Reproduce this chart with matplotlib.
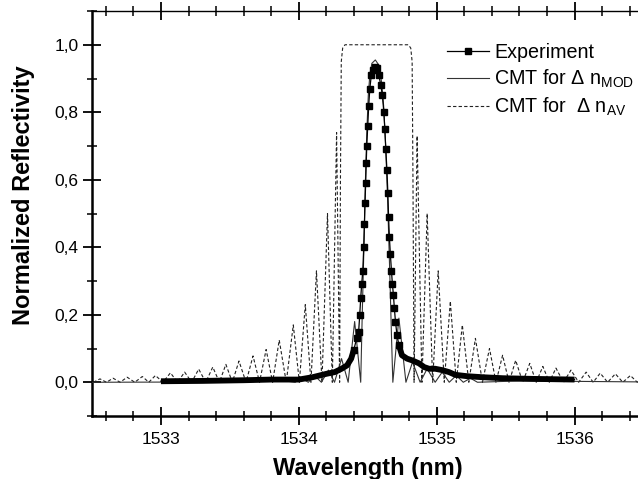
import numpy as np
import matplotlib
matplotlib.use("Agg")
from matplotlib import pyplot as plt
from matplotlib.ticker import MultipleLocator, FuncFormatter

plt.rcParams['font.family'] = ['Liberation Sans', 'DejaVu Sans']
plt.rcParams['mathtext.default'] = 'regular'

# measured grating spectrum (squares)
exp_x = [1533.00, 1533.30, 1533.60, 1533.80, 1534.00, 1534.10, 1534.20, 1534.26,
         1534.31, 1534.35, 1534.38, 1534.398, 1534.420, 1534.434, 1534.442, 1534.449,
         1534.456, 1534.464, 1534.471, 1534.476, 1534.480, 1534.485, 1534.489, 1534.493,
         1534.500, 1534.507, 1534.515, 1534.526, 1534.536, 1534.551, 1534.566, 1534.580,
         1534.595, 1534.606, 1534.617, 1534.624, 1534.631, 1534.639, 1534.646, 1534.651,
         1534.657, 1534.664, 1534.672, 1534.679, 1534.686, 1534.693, 1534.701, 1534.712,
         1534.726, 1534.748, 1534.785, 1534.821, 1534.872, 1534.909, 1534.945, 1534.989,
         1535.04, 1535.09, 1535.135, 1535.22, 1535.33, 1535.48, 1535.70, 1536.00]
exp_y = [0.003, 0.004, 0.006, 0.008, 0.008, 0.015, 0.025, 0.030,
         0.040, 0.050, 0.070, 0.095, 0.130, 0.150, 0.200, 0.250,
         0.290, 0.330, 0.400, 0.470, 0.530, 0.590, 0.650, 0.700,
         0.760, 0.820, 0.870, 0.910, 0.925, 0.935, 0.930, 0.910,
         0.880, 0.850, 0.800, 0.750, 0.690, 0.630, 0.560, 0.490,
         0.430, 0.380, 0.330, 0.290, 0.260, 0.220, 0.180, 0.140,
         0.110, 0.080, 0.070, 0.065, 0.056, 0.045, 0.040, 0.040,
         0.036, 0.030, 0.022, 0.018, 0.015, 0.012, 0.010, 0.008]

# CMT with modulated index change
mod_x = [1532.50, 1533.50, 1533.90, 1533.974, 1534.018, 1534.069, 1534.113, 1534.164,
         1534.215, 1534.259, 1534.310, 1534.358, 1534.405, 1534.449, 1534.460, 1534.471,
         1534.482, 1534.493, 1534.504, 1534.515, 1534.530, 1534.555, 1534.580, 1534.600,
         1534.615, 1534.630, 1534.645, 1534.660, 1534.672, 1534.682, 1534.726, 1534.777,
         1534.825, 1534.880, 1534.931, 1534.989, 1535.040, 1535.091, 1535.142, 1535.193,
         1535.245, 1535.296, 1535.60, 1536.50]
mod_y = [0.000, 0.001, 0.004, 0.000, 0.012, 0.000, 0.020, 0.000,
         0.036, 0.000, 0.070, 0.000, 0.180, 0.000, 0.200, 0.380,
         0.580, 0.740, 0.850, 0.910, 0.945, 0.955, 0.940, 0.890,
         0.820, 0.700, 0.530, 0.320, 0.140, 0.000, 0.190, 0.000,
         0.060, 0.000, 0.040, 0.000, 0.030, 0.000, 0.020, 0.000,
         0.012, 0.000, 0.004, 0.001]

# CMT with average index change
av_x = [1532.51, 1532.558, 1532.605, 1532.653, 1532.704, 1532.755, 1532.81, 1532.865,
        1532.912, 1532.960, 1533.015, 1533.069, 1533.12, 1533.172, 1533.223, 1533.274,
        1533.325, 1533.376, 1533.424, 1533.471, 1533.518, 1533.566, 1533.617, 1533.668,
        1533.715, 1533.763, 1533.81, 1533.858, 1533.909, 1533.960, 1534.004, 1534.047,
        1534.088, 1534.128, 1534.168, 1534.208, 1534.243, 1534.274, 1534.296, 1534.302,
        1534.308, 1534.318, 1534.335, 1534.795, 1534.812, 1534.822, 1534.828, 1534.836,
        1534.858, 1534.893, 1534.931, 1534.971, 1535.011, 1535.055, 1535.099, 1535.142,
        1535.186, 1535.233, 1535.281, 1535.332, 1535.383, 1535.43, 1535.478, 1535.525,
        1535.573, 1535.624, 1535.675, 1535.722, 1535.770, 1535.817, 1535.865, 1535.92,
        1535.974, 1536.03, 1536.084, 1536.135, 1536.186, 1536.24, 1536.296, 1536.35,
        1536.405, 1536.455, 1536.507, 1536.56]
av_y = [0.0, 0.010, 0.0, 0.012, 0.0, 0.015, 0.0, 0.017,
        0.0, 0.020, 0.0, 0.028, 0.0, 0.030, 0.0, 0.039,
        0.0, 0.045, 0.0, 0.053, 0.0, 0.063, 0.0, 0.078,
        0.0, 0.097, 0.0, 0.125, 0.0, 0.170, 0.0, 0.230,
        0.0, 0.330, 0.0, 0.500, 0.0, 0.740, 0.0, 0.600,
        0.950, 0.990, 1.000, 1.000, 0.990, 0.950, 0.600, 0.0,
        0.730, 0.0, 0.500, 0.0, 0.330, 0.0, 0.240, 0.0,
        0.170, 0.0, 0.130, 0.0, 0.100, 0.0, 0.080, 0.0,
        0.065, 0.0, 0.056, 0.0, 0.047, 0.0, 0.042, 0.0,
        0.036, 0.0, 0.030, 0.0, 0.027, 0.0, 0.025, 0.0,
        0.020, 0.0, 0.018, 0.0]

x_ticks = [1533, 1534, 1535, 1536]
y_ticks = [0.0, 0.2, 0.4, 0.6, 0.8, 1.0]

fig = plt.figure(figsize=(6.38, 4.79), dpi=100)
ax = fig.add_axes([0.1442, 0.1315, 0.8644, 0.8455])

exp_x = np.array(exp_x)
exp_y = np.array(exp_y)
band = np.where(exp_y < 0.12, exp_y, np.nan)
show_marker = list(exp_y >= 0.09)

ax.plot(av_x, av_y, color='#222222', lw=0.8, ls=(0, (3, 2)), label=r'CMT for  Δ n$_{AV}$', zorder=2)
ax.plot(mod_x, mod_y, color='#333333', lw=0.8, label=r'CMT for Δ n$_{MOD}$', zorder=3)
ax.plot(exp_x, band, color='black', lw=4.2, solid_capstyle='butt', zorder=4)
ax.plot(exp_x, exp_y, color='black', lw=0.9, marker='s', ms=4.5, markevery=show_marker,
        zorder=5)
# legend proxy for the experiment
ax.plot([], [], color='black', lw=0.9, marker='s', ms=4, label='Experiment')

ax.set_xlim(1532.5, 1536.5)
ax.set_ylim(-0.1, 1.1)

ax.set_xticks(x_ticks)
ax.set_yticks(y_ticks)
ax.xaxis.set_minor_locator(MultipleLocator(0.2))
ax.yaxis.set_minor_locator(MultipleLocator(0.1))
ax.yaxis.set_major_formatter(FuncFormatter(lambda v, p: f"{v:.1f}".replace('.', ',')))

ax.tick_params(axis='both', which='major', direction='inout', length=13, width=1.3,
               labelsize=12.5, pad=3)
ax.tick_params(axis='both', which='minor', direction='inout', length=7, width=1.1)
ax.tick_params(axis='x', which='both', top=True)
ax.tick_params(axis='x', which='major', pad=5)

for s in ['left', 'bottom']:
    ax.spines[s].set_linewidth(1.8)
ax.spines['top'].set_linewidth(1.0)
ax.spines['right'].set_linewidth(1.0)

ax.set_xlabel('Wavelength (nm)', fontsize=17, fontweight='bold')
ax.set_ylabel('Normalized Reflectivity', fontsize=17, fontweight='bold')
ax.xaxis.set_label_coords(0.5, -0.10)
ax.yaxis.set_label_coords(-0.103, 0.546)

handles, labels = ax.get_legend_handles_labels()
order = [2, 1, 0]
ax.legend([handles[i] for i in order], [labels[i] for i in order],
          loc='upper left', bbox_to_anchor=(0.644, 0.922), frameon=False,
          fontsize=14.2, handlelength=2.1, handletextpad=0.3, labelspacing=0.3,
          borderpad=0, borderaxespad=0, numpoints=1)

fig.savefig('out.png', dpi=100)
